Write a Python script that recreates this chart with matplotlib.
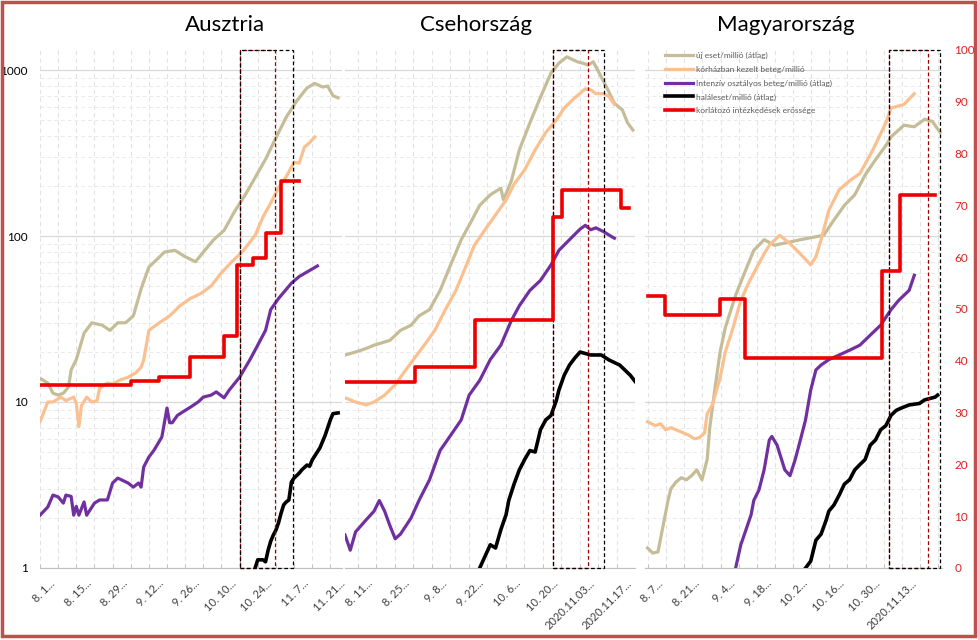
import numpy as np
import matplotlib.pyplot as plt
from matplotlib.patches import Rectangle
from matplotlib.ticker import LogLocator, NullFormatter

plt.rcParams['font.family'] = ['Lato', 'DejaVu Sans']

# ---- data: days since the first day of each panel's axis ----
# Ausztria (axis starts Aug 1)
at_days_cases = [0,3,5,7,9,11,12,14,17,20,24,27,30,33,36,39,42,45,48,52,56,60,63,67,71,75,79,83,87,91,95,99,103,106,109,111,113,115]
at_cases = [13.9,13,11.3,11,11.3,12.3,15.6,18,26,30,29,27,30,30,33,48,65,72,80,82,75,70,80,95,108,140,175,225,290,390,520,650,780,830,790,800,700,680]
at_days_hosp = [0,3,5,8,10,13,14,15,16,18,20,22,23,26,28,31,34,37,39,40,42,46,50,54,58,62,66,70,74,78,83,86,89,92,95,98,100,102,104,106]
at_hosp = [7.6,10,10,10.7,10.2,10.7,9.8,7.1,9.5,10.7,10,10.2,12.1,13,12.8,13.6,14.1,15,16.2,17.9,27,30,33,38,42,45,50,60,70,80,101,130,158,195,228,278,275,343,365,395]
at_days_icu = [0,3,5,7,9,10,12,13,14,15,17,18,21,23,26,28,30,34,36,38,39,40,42,44,47,49,50,51,53,55,58,61,63,66,68,71,73,77,81,84,87,89,92,97,100,104,107]
at_icu = [2.08,2.33,2.75,2.68,2.46,2.75,2.7,2.08,2.35,2.08,2.5,2.08,2.46,2.57,2.57,3.25,3.48,3.25,3.07,3.25,3.07,4.06,4.66,5.13,6.15,9.2,7.5,7.5,8.3,8.7,9.3,10,10.7,11,11.5,10.6,11.8,14.1,18,22,27,36,42,52,57,62,66]
at_days_death = [83,84,86,87,88,89,90,91,92,93,94,95,96,97,98,100,101,103,104,105,108,110,112,113,115]
at_death = [1.0,1.12,1.12,1.09,1.28,1.45,1.58,1.69,1.87,2.14,2.4,2.5,2.57,3.3,3.48,3.73,3.9,4.17,4.1,4.47,5.3,6.3,7.8,8.5,8.6]
at_days_str = [0,35,46,58,71,76,82,87,93]
at_str = [35.3,36.1,36.9,40.7,44.8,58.5,59.8,64.7,74.7]
at_str_end = 100
at_box = (77.2, 97.7)
at_rbox = (77.2, 90.7)
at_labels = ['8. 1...', '8. 15...', '8. 29...', '9. 12...', '9. 26...', '10. 10...', '10. 24...', '11. 7...', '11. 21...']

# Csehország (axis starts Aug 6)
cz_days_cases = [0,4,8,11,17,21,25,28,32,36,40,44,47,51,55,59,60,63,66,70,74,78,81,84,88,90,92,94,97,99,102,105,107,109]
cz_cases = [19.2,20,21,22,23.5,27,29,33,36,47,67,95,116,153,177,194,165,215,330,480,685,960,1100,1200,1120,1100,1070,1120,910,790,630,575,480,435]
cz_days_hosp = [0,4,8,11,15,19,23,27,30,34,38,42,46,49,53,57,61,64,68,72,76,80,83,87,91,93,95,98,100,102]
cz_hosp = [10.6,10,9.6,10,11,12.7,15.6,19,22,27,36,47,67,88,109,134,165,205,250,330,420,500,590,680,770,760,720,720,690,620]
cz_days_icu = [0,2,4,8,11,13,15,17,19,21,25,28,32,36,40,44,47,51,55,59,63,66,70,74,78,81,85,89,91,93,95,98,101,102]
cz_icu = [1.58,1.28,1.65,1.95,2.2,2.55,2.2,1.8,1.5,1.6,2.0,2.55,3.4,5.1,6.3,7.8,11,13.5,18,22,31,38,47,54,67,82,95,110,116,109,112,106,99,97]
cz_days_death = [51,55,57,59,61,62,64,66,68,70,72,74,76,78,80,81,83,85,87,89,93,97,100,104,108,110]
cz_death = [1.0,1.38,1.32,1.7,2.1,2.55,3.2,3.9,4.5,5.1,5.0,6.8,7.8,8.3,10.2,11.8,14.5,16.7,18.4,20,19.2,19.2,17.9,16.7,14.5,13.2]
cz_days_str = [0,26.5,49.2,78.8,82.2,104.5]
cz_str = [35.9,38.8,47.9,67.8,73.0,69.5]
cz_str_end = 107.6
cz_box = (78.8, 98.1)
cz_rbox = (78.8, 92.0)
cz_labels = ['8. 11...', '8. 25...', '9. 8...', '9. 22...', '10. 6...', '10. 20...', '2020.11.03...', '2020.11.17...']

# Magyarország (axis starts Aug 6)
hu_days_cases = [1,3,5,7,9,10,12,14,16,18,20,22,24,25,27,29,31,35,39,42,46,50,56,60,66,69,73,77,81,85,89,93,95,100,104,108,111,114]
hu_cases = [1.32,1.23,1.25,1.8,2.6,3.0,3.3,3.5,3.4,3.6,3.9,3.4,4.5,7.0,12,20,28,44,63,82,95,88,92,95,99,101,125,153,177,233,288,350,395,465,455,505,490,420]
hu_days_hosp = [1,4,6,8,10,14,17,19,21,23,24,26,29,31,34,37,40,43,46,48,52,56,60,64,66,68,71,75,79,83,88,93,95,100,104]
hu_hosp = [7.6,7.2,7.4,6.8,7.0,6.6,6.3,6.0,6.1,6.5,8.5,9.6,14,20,28,41,52,64,78,88,101,90,78,67,75,95,143,190,215,238,330,480,590,620,720]
hu_days_icu = [35,37,39,41,42,44,46,48,49,51,54,56,58,60,62,64,66,68,71,75,79,83,87,91,95,98,102,104]
hu_icu = [1.0,1.38,1.7,2.1,2.55,2.95,3.9,5.9,6.2,5.5,3.9,3.6,4.5,5.9,7.8,11.8,15.6,16.7,18,19.2,20.5,22,25.3,29,36,41,47,58]
hu_days_death = [62,64,66,68,70,71,73,75,77,79,81,83,85,87,89,91,93,95,97,99,102,106,108,112,113]
hu_death = [1.0,1.1,1.47,1.6,1.95,2.2,2.4,2.75,3.2,3.4,3.9,4.2,4.5,5.5,5.9,6.8,7.2,8.3,8.9,9.2,9.6,9.8,10.3,10.7,11.0]
hu_days_str = [1,7.7,29,38.6,91.5,98.5]
hu_str = [52.5,48.8,51.9,40.5,57.3,72.0]
hu_str_end = 112
hu_box = (94.2, 113.9)
hu_rbox = (94.2, 109.3)
hu_labels = ['8. 7...', '8. 21...', '9. 4...', '9. 18...', '10. 2...', '10. 16...', '10. 30...', '2020.11.13...']

series_names = ['új eset/millió (átlag)', 'kórházban kezelt beteg/millió',
                'Intenzív osztályos beteg/millió (átlag)', 'haláleset/millió (átlag)',
                'korlátozó intézkedések erőssége']
c_cases = '#C4BD97'
c_hosp = '#FAC090'
c_icu = '#7030A0'
c_death = 'black'
c_str = '#EE0000'

W, H = 979, 640
fig = plt.figure(figsize=(W / 100, H / 100), dpi=100)
fig.patch.set_facecolor('white')


def panel(x0, x1, xmax, grid0, lab0, labels, title, title_x,
          cd, cv, hd, hv, idd, iv, dd, dv, sd, sv, s_end, box, rbox,
          show_left=False, show_right=False):
    ax = fig.add_axes([x0 / W, (H - 568) / H, (x1 - x0) / W, 518 / H])
    ax.set_yscale('log')
    ax.set_ylim(1, 10 ** (518 / 166))
    ax.set_xlim(0, xmax)
    lines = []
    lines += ax.plot(cd, cv, color=c_cases, lw=2.3)
    lines += ax.plot(hd, hv, color=c_hosp, lw=2.3)
    lines += ax.plot(idd, iv, color=c_icu, lw=2.3)
    lines += ax.plot(dd, dv, color=c_death, lw=2.6)

    ax.set_axisbelow(True)
    ax.set_xticks(lab0 + 14 * np.arange(len(labels)))
    ax.set_xticklabels(labels, rotation=45, ha='right', rotation_mode='anchor',
                       fontsize=8, color='#404040')
    ax.set_xticks(np.arange(grid0, xmax, 7), minor=True)
    ax.tick_params(axis='x', which='major', length=0, pad=7)
    ax.tick_params(axis='x', which='minor', length=3, direction='in', color='#BFBFBF')
    ax.grid(axis='x', which='minor', color='#E3E3E3', lw=0.8, ls=(0, (4, 3)))

    ax.set_yticks([1, 10, 100, 1000])
    ax.set_yticklabels(['1', '10', '100', '1000'])
    ax.yaxis.set_minor_locator(LogLocator(subs=np.arange(2, 10)))
    ax.yaxis.set_minor_formatter(NullFormatter())
    ax.tick_params(axis='y', which='both', length=0, labelsize=8.5, pad=9,
                   labelleft=show_left)
    ax.grid(axis='y', which='major', color='#D9D9D9', lw=0.9)
    ax.grid(axis='y', which='minor', color='#EBEBEB', lw=0.7, ls=(0, (4, 3)))
    for s in ax.spines.values():
        s.set_visible(False)
    ax.spines['bottom'].set_visible(True)
    ax.spines['bottom'].set_color('#BFBFBF')

    ax2 = ax.twinx()
    ax2.set_ylim(0, 100)
    lines += ax2.step(list(sd) + [s_end], list(sv) + [sv[-1]], where='post',
                      color=c_str, lw=2.6)
    # red (shorter) window first, the black frame drawn over it
    ax2.add_patch(Rectangle((rbox[0], 0), rbox[1] - rbox[0], 100, fill=False,
                            ec='#A00000', lw=0.9, ls=(0, (3, 2)), clip_on=False))
    ax2.add_patch(Rectangle((box[0], 0), box[1] - box[0], 100, fill=False,
                            ec='black', lw=0.9, ls=(0, (3, 2)), clip_on=False))
    for s in ax2.spines.values():
        s.set_visible(False)
    if show_right:
        ax2.set_yticks(range(0, 101, 10))
        ax2.tick_params(axis='y', length=0, labelsize=8.5, labelcolor='#E02020', pad=9)
    else:
        ax2.set_yticks([])

    fig.text(title_x / W, 1 - 25 / H, title, ha='center', va='center', fontsize=16)
    return lines


panel(40, 342, 116.5, 0, 3.5, at_labels, 'Ausztria', 225,
      at_days_cases, at_cases, at_days_hosp, at_hosp, at_days_icu, at_icu,
      at_days_death, at_death, at_days_str, at_str, at_str_end, at_box, at_rbox,
      show_left=True)
panel(345, 635, 109.8, 4.9, 8.4, cz_labels, 'Csehország', 476,
      cz_days_cases, cz_cases, cz_days_hosp, cz_hosp, cz_days_icu, cz_icu,
      cz_days_death, cz_death, cz_days_str, cz_str, cz_str_end, cz_box, cz_rbox)
hu_lines = panel(645, 942, 114.7, 1.2, 4.7, hu_labels, 'Magyarország', 786,
                 hu_days_cases, hu_cases, hu_days_hosp, hu_hosp, hu_days_icu, hu_icu,
                 hu_days_death, hu_death, hu_days_str, hu_str, hu_str_end, hu_box, hu_rbox,
                 show_right=True)

fig.legend(hu_lines, series_names, loc='upper left',
           bbox_to_anchor=(665 / W, 1 - 52 / H), frameon=False, fontsize=6,
           labelcolor='#595959', handlelength=3.3, labelspacing=0.8,
           handletextpad=0.4, borderaxespad=0, borderpad=0)

fig.add_artist(Rectangle((2 / W, 4 / H), 973 / W, 634 / H, transform=fig.transFigure,
                         fill=False, ec='#C0504D', lw=2.5))

fig.savefig('out.png', dpi=100)
